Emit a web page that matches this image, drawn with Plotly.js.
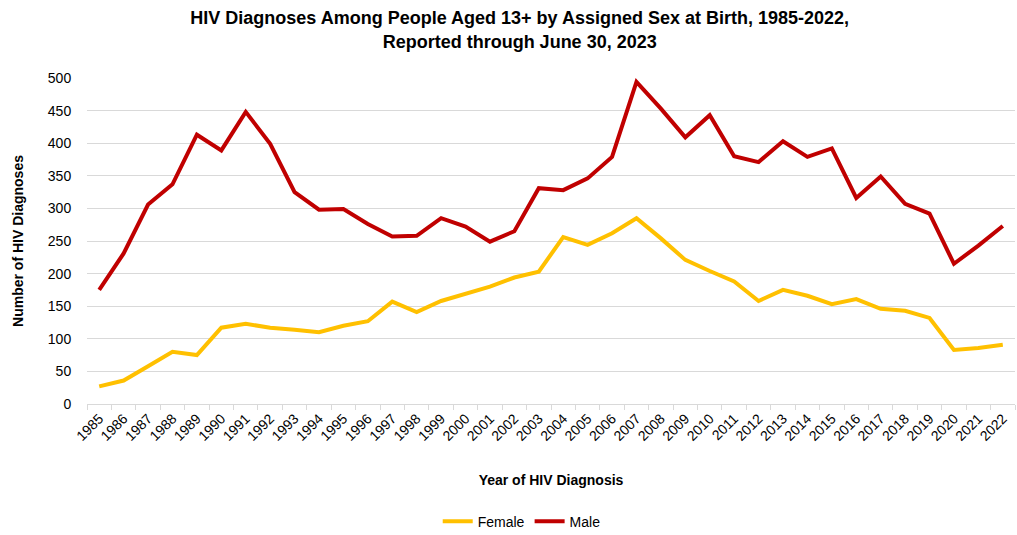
<!DOCTYPE html>
<html>
<head>
<meta charset="utf-8">
<script src="https://cdn.plot.ly/plotly-3.0.1.min.js"></script>
<style>html,body{margin:0;padding:0;background:#fff;}#chart{width:1017px;height:535px;}</style>
</head>
<body>
<div id="chart"></div>
<script>
const years = ['1985','1986','1987','1988','1989','1990','1991','1992','1993','1994','1995','1996','1997','1998','1999','2000','2001','2002','2003','2004','2005','2006','2007','2008','2009','2010','2011','2012','2013','2014','2015','2016','2017','2018','2019','2020','2021','2022'];
const female = [27,36,58,80,75,117,123,117,114,110,120,127,157,141,158,169,180,194,203,256,244,262,285,254,221,204,188,158,175,166,153,161,146,143,132,83,86,91];
const male = [175,231,306,337,413,389,448,399,325,298,299,276,257,258,285,272,249,265,331,328,346,379,494,453,409,443,380,371,403,379,392,316,349,307,292,215,243,273];

const font = 'Liberation Sans, Arial, sans-serif';
const traces = [
  {x: years, y: female, name: 'Female', type: 'scatter', mode: 'lines', line: {color: '#FFC000', width: 4}},
  {x: years, y: male, name: 'Male', type: 'scatter', mode: 'lines', line: {color: '#C00000', width: 4}}
];
const layout = {
  width: 1017, height: 535,
  margin: {l: 87, r: 2, t: 78, b: 131},
  paper_bgcolor: '#fff', plot_bgcolor: '#fff',
  font: {family: font, size: 14, color: '#000'},
  title: {text: '<b>HIV Diagnoses Among People Aged 13+ by Assigned Sex at Birth, 1985-2022,<br>Reported through June 30, 2023</b>', x: 0.511, xanchor: 'center', y: 0.9545, yanchor: 'top', font: {family: font, size: 18, color: '#000'}},
  xaxis: {type: 'category', automargin: false, showgrid: false, showline: true, linecolor: '#d9d9d9', linewidth: 1,
    ticks: 'outside', tickson: 'boundaries', ticklen: 5, tickcolor: '#d9d9d9', tickangle: -45,
    tickfont: {family: font, size: 14}, range: [-0.5, 37.5],
    title: {text: '<b>Year of HIV Diagnosis</b>', font: {family: font, size: 14}, standoff: 32}},
  yaxis: {range: [0, 500], automargin: false, dtick: 50, showgrid: true, gridcolor: '#d9d9d9', gridwidth: 1, zeroline: false,
    tickfont: {family: font, size: 14}, ticks: 'outside', ticklen: 12, tickcolor: 'rgba(0,0,0,0)',
    title: {text: '<b>Number of HIV Diagnoses</b>', font: {family: font, size: 14}, standoff: 20}},
  showlegend: true,
  legend: {orientation: 'h', x: 0.513, xanchor: 'center', xref: 'container', yref: 'container', y: 0.025, yanchor: 'middle', font: {family: font, size: 14}}
};
Plotly.newPlot('chart', traces, layout, {displayModeBar: false, staticPlot: true});
</script>
</body>
</html>
